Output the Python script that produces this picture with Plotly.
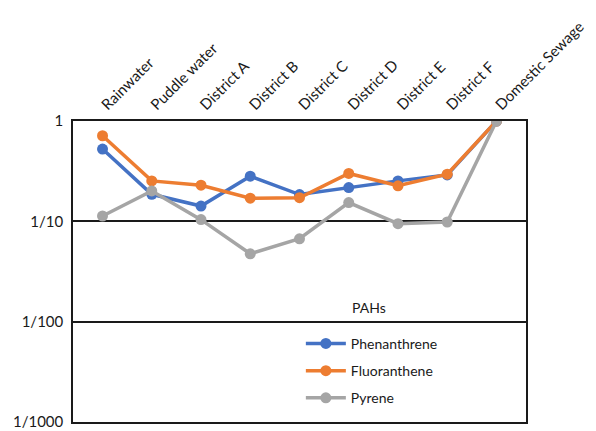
import plotly.graph_objects as go

# Sampling sites along the top axis
sites = ["Rainwater", "Puddle water", "District A", "District B", "District C",
         "District D", "District E", "District F", "Domestic Sewage"]

# Relative concentrations (normalised to domestic sewage = 1)
phenanthrene = [0.525, 0.186, 0.142, 0.282, 0.185, 0.217, 0.253, 0.29, 1.0]
fluoranthene = [0.713, 0.253, 0.229, 0.170, 0.172, 0.300, 0.226, 0.295, 1.0]
pyrene = [0.113, 0.201, 0.104, 0.0475, 0.067, 0.154, 0.0948, 0.0985, 1.0]

# Log axis tick positions and fraction labels
y_tickvals = [1, 0.1, 0.01, 0.001]
y_ticktext = ["1", "1/10", "1/100", "1/1000"]

series = [
    ("Phenanthrene", phenanthrene, "#4472C4"),
    ("Fluoranthene", fluoranthene, "#ED7D31"),
    ("Pyrene", pyrene, "#A5A5A5"),
]

FONT = "Lato"
INK = "#1a1a1a"

fig = go.Figure()
for name, vals, color in series:
    fig.add_trace(go.Scatter(
        x=sites, y=vals, name=name, mode="lines+markers",
        legendgroup=name,
        line=dict(color=color, width=3.5),
        marker=dict(color=color, size=11),
    ))

fig.update_layout(
    width=596, height=431,
    margin=dict(l=73, r=70, t=121, b=9, autoexpand=False),
    paper_bgcolor="white", plot_bgcolor="white",
    font=dict(family=FONT, size=14, color=INK),
    showlegend=True,
    legend=dict(
        x=0.503, y=0.17, xanchor="left", yanchor="middle",
        bgcolor="rgba(0,0,0,0)",
        font=dict(family=FONT, size=14, color=INK),
        tracegroupgap=6, itemwidth=40,
    ),
    annotations=[dict(
        text="PAHs", xref="paper", yref="paper", x=0.653, y=0.38,
        xanchor="center", yanchor="middle", showarrow=False,
        font=dict(family=FONT, size=14, color=INK),
    )],
)

fig.update_xaxes(
    side="top", tickangle=-45, showgrid=False, automargin=False,
    showline=True, linecolor=INK, linewidth=1.5, mirror=True,
    ticks="", ticklabelstandoff=0, tickfont=dict(family=FONT, size=15, color=INK),
)
fig.update_yaxes(
    type="log", range=[-3, 0], automargin=False,
    tickvals=y_tickvals, ticktext=y_ticktext,
    showgrid=True, gridcolor=INK, gridwidth=1.5,
    showline=True, linecolor=INK, linewidth=1.5, mirror=True,
    ticks="", ticklabelstandoff=5, zeroline=False,
    tickfont=dict(family=FONT, size=15, color=INK),
)

fig.write_html("out.html")
